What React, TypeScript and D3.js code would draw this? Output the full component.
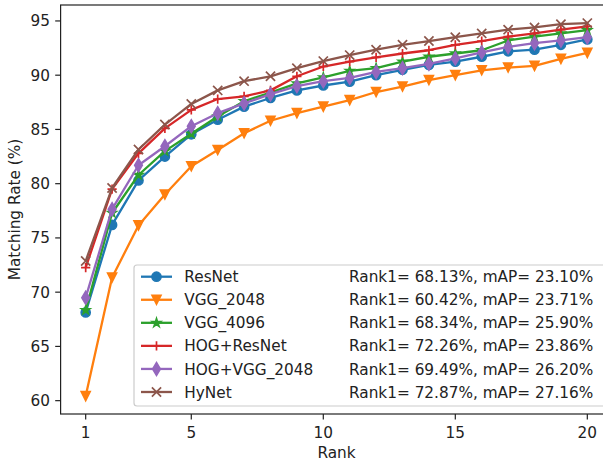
import * as d3 from 'd3';
import React from 'react';

const width = 603;
const height = 463;
const font = 'DejaVu Sans, sans-serif';
const fs = 15.3;

const ranks = [1, 2, 3, 4, 5, 6, 7, 8, 9, 10, 11, 12, 13, 14, 15, 16, 17, 18, 19, 20];
const resnet = [68.13, 76.2, 80.3, 82.5, 84.55, 85.9, 87.1, 87.9, 88.6, 89.05, 89.4, 90.0, 90.5, 90.95, 91.25, 91.7, 92.2, 92.35, 92.8, 93.3];
const vgg2048 = [60.42, 71.35, 76.15, 79.0, 81.6, 83.1, 84.65, 85.8, 86.5, 87.1, 87.7, 88.45, 88.95, 89.55, 90.0, 90.45, 90.7, 90.85, 91.5, 92.05];
const vgg4096 = [68.34, 77.3, 80.8, 83.0, 84.6, 86.2, 87.6, 88.4, 89.25, 89.8, 90.4, 90.65, 91.25, 91.7, 92.0, 92.3, 93.2, 93.55, 93.85, 94.15];
const hogResnet = [72.26, 79.5, 82.8, 85.1, 86.8, 87.8, 88.05, 88.6, 89.9, 90.8, 91.25, 91.65, 92.0, 92.3, 92.8, 93.15, 93.55, 93.85, 94.2, 94.5];
const hogVgg = [69.49, 77.65, 81.7, 83.45, 85.3, 86.5, 87.4, 88.25, 89.0, 89.45, 89.75, 90.3, 90.65, 91.05, 91.55, 92.1, 92.6, 92.95, 93.2, 93.5];
const hynet = [72.87, 79.6, 83.15, 85.45, 87.35, 88.6, 89.45, 89.9, 90.65, 91.3, 91.85, 92.35, 92.8, 93.15, 93.5, 93.85, 94.2, 94.4, 94.7, 94.8];

const names = ['ResNet', 'VGG_2048', 'VGG_4096', 'HOG+ResNet', 'HOG+VGG_2048', 'HyNet'];
const scores = [
  'Rank1= 68.13%, mAP= 23.10%',
  'Rank1= 60.42%, mAP= 23.71%',
  'Rank1= 68.34%, mAP= 25.90%',
  'Rank1= 72.26%, mAP= 23.86%',
  'Rank1= 69.49%, mAP= 26.20%',
  'Rank1= 72.87%, mAP= 27.16%',
];
const markers = ['o', 'v', '*', '+', 'd', 'x'];
const colors = ['#1f77b4', '#ff7f0e', '#2ca02c', '#d62728', '#9467bd', '#8c564b'];
const seriesValues = [resnet, vgg2048, vgg4096, hogResnet, hogVgg, hynet];

const xTicks = [1, 5, 10, 15, 20];
const yTicks = [60, 65, 70, 75, 80, 85, 90, 95];

const plot = { left: 60.6, right: 612.4, top: 5, bottom: 414 };
const ms = 9.2; // marker size in px

const xScale = d3.scaleLinear().domain([0.05, 20.95]).range([plot.left, plot.right]);
const yScale = d3.scaleLinear().domain([58.77, 96.47]).range([plot.bottom, plot.top]);

// marker shapes, roughly like matplotlib's
function markerPath(kind: string, s: number) {
  const h = s / 2;
  if (kind === 'o') {
    return d3.symbol(d3.symbolCircle, Math.PI * h * h)() as string;
  }
  if (kind === 'v') {
    return `M${-h},${-h}L${h},${-h}L0,${h}Z`;
  }
  if (kind === '*') {
    const pts = d3.range(10).map(i => {
      const r = i % 2 === 0 ? h : h * 0.381966;
      const a = -Math.PI / 2 + (i * Math.PI) / 5;
      return [r * Math.cos(a), r * Math.sin(a)];
    });
    return 'M' + pts.map(p => p.join(',')).join('L') + 'Z';
  }
  if (kind === '+') {
    return `M${-h},0L${h},0M0,${-h}L0,${h}`;
  }
  if (kind === 'x') {
    return `M${-h},${-h}L${h},${h}M${-h},${h}L${h},${-h}`;
  }
  // thin diamond
  const dy = s * 0.7071;
  const dx = dy * 0.6;
  return `M0,${-dy}L${dx},0L0,${dy}L${-dx},0Z`;
}

const Marker = ({ kind, color, x, y }: { kind: string; color: string; x: number; y: number }) => {
  const open = kind === '+' || kind === 'x';
  return (
    <path
      d={markerPath(kind, ms)}
      transform={`translate(${x},${y})`}
      fill={open ? 'none' : color}
      stroke={color}
      strokeWidth={open ? 1.7 : 1.5}
      strokeLinejoin="miter"
    />
  );
};

const line = d3
  .line<number>()
  .x((_, i) => xScale(ranks[i]))
  .y(d => yScale(d));

export default function App() {
  const legend = { x: 134, y: 265, w: 472, h: 141 };
  const rowY0 = 276.7;
  const rowStep = 23.06;

  return (
    <svg width={width} height={height} style={{ position: 'absolute', left: 0, top: 0, background: '#fff' }} fontFamily={font}>
      <defs>
        <clipPath id="plotClip">
          <rect x={plot.left} y={plot.top} width={plot.right - plot.left} height={plot.bottom - plot.top} />
        </clipPath>
      </defs>
      <rect width={width} height={height} fill="#fff" />

      {/* series */}
      <g clipPath="url(#plotClip)">
        {seriesValues.map((vals, si) => (
          <g key={names[si]}>
            <path d={line(vals) as string} fill="none" stroke={colors[si]} strokeWidth={2.3} strokeLinejoin="round" />
            {vals.map((v, i) => (
              <Marker key={i} kind={markers[si]} color={colors[si]} x={xScale(ranks[i])} y={yScale(v)} />
            ))}
          </g>
        ))}
      </g>

      {/* spines */}
      <rect
        x={plot.left}
        y={plot.top}
        width={plot.right - plot.left}
        height={plot.bottom - plot.top}
        fill="none"
        stroke="#222"
        strokeWidth={1.2}
      />

      {/* x axis */}
      {xTicks.map(t => (
        <g key={t} transform={`translate(${xScale(t)},${plot.bottom})`}>
          <line y2={5.4} stroke="#222" strokeWidth={1.2} />
          <text y={24} textAnchor="middle" fontSize={fs} fill="#222">{t}</text>
        </g>
      ))}
      <text x={(plot.left + plot.right) / 2} y={458} textAnchor="middle" fontSize={fs} fill="#222">Rank</text>

      {/* y axis */}
      {yTicks.map(t => (
        <g key={t} transform={`translate(${plot.left},${yScale(t)})`}>
          <line x2={-5.4} stroke="#222" strokeWidth={1.2} />
          <text x={-10.6} y={5.5} textAnchor="end" fontSize={fs} fill="#222">{t}</text>
        </g>
      ))}
      <text
        transform={`translate(20,${(plot.top + plot.bottom) / 2}) rotate(-90)`}
        textAnchor="middle"
        fontSize={fs}
        fill="#222"
      >
        Matching Rate (%)
      </text>

      {/* legend */}
      <rect
        x={legend.x}
        y={legend.y}
        width={legend.w}
        height={legend.h}
        rx={3}
        fill="#fff"
        fillOpacity={0.8}
        stroke="#cccccc"
        strokeWidth={1.2}
      />
      {names.map((n, i) => {
        const cy = rowY0 + i * rowStep;
        return (
          <g key={n}>
            <line x1={141} x2={172} y1={cy} y2={cy} stroke={colors[i]} strokeWidth={2.3} />
            <Marker kind={markers[i]} color={colors[i]} x={156.5} y={cy} />
            <text x={184.3} y={cy + 5.6} fontSize={fs} fill="#222">{n}</text>
            <text x={349} y={cy + 5.6} fontSize={fs} fill="#222">{scores[i]}</text>
          </g>
        );
      })}
    </svg>
  );
}
